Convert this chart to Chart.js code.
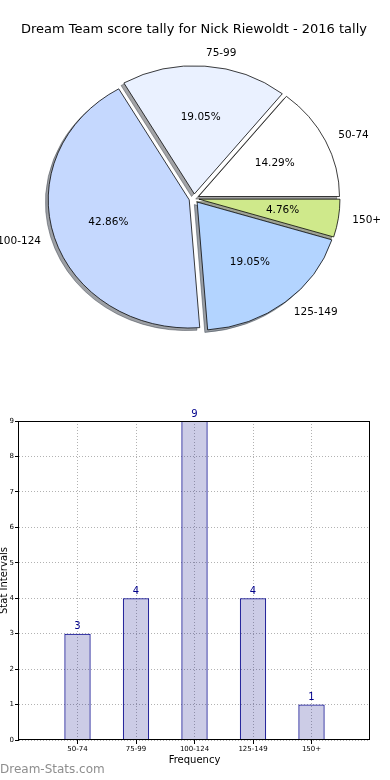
<!DOCTYPE html>
<html><head><meta charset="utf-8">
<script src="https://cdn.jsdelivr.net/npm/chart.js@4.4.0/dist/chart.umd.min.js"></script>
<style>
html,body{margin:0;padding:0;background:#fff;width:390px;height:780px;overflow:hidden;position:relative;font-family:'DejaVu Sans',sans-serif;}
#pie{position:absolute;left:0;top:0;}
#bar{position:absolute;left:0;top:390px;}
#wm{position:absolute;left:0;top:762px;font:12px 'DejaVu Sans',sans-serif;color:#8e8e8e;line-height:14px;}
</style></head><body>
<canvas id="pie" width="390" height="390"></canvas>
<canvas id="bar" width="390" height="390"></canvas>
<div id="wm">Dream-Stats.com</div>
<script>
// ---- data ----
const chartTitle = 'Dream Team score tally for Nick Riewoldt - 2016 tally';
const categories = ['50-74', '75-99', '100-124', '125-149', '150+'];
const counts = [3, 4, 9, 4, 1];
const yTicks = [0, 1, 2, 3, 4, 5, 6, 7, 8, 9];
const xAxisTitle = 'Frequency';
const yAxisTitle = 'Stat Intervals';

// ---- styles ----
const sliceColors = ['#ffffff', '#eaf1ff', '#c5d8fe', '#b3d4ff', '#cfe98b'];
const FONT = "'DejaVu Sans', sans-serif";
const R = 141;        // horizontal pie radius (px)
const SY = 0.909;     // vertical squash (matplotlib non-equal axes)
const EXPL = 5;       // explode distance (px)
const SH = 2.8;       // shadow offset (px)

const total = counts.reduce((a, b) => a + b, 0);
// matplotlib draws counter-clockwise from east; Chart.js clockwise -> reverse
const pieLabels = categories.slice().reverse();
const pieValues = counts.slice().reverse();
const pieColors = sliceColors.slice().reverse();

function hexRgb(h) {
  const n = parseInt(h.slice(1), 16);
  return [(n >> 16) & 255, (n >> 8) & 255, n & 255];
}

const piePlugin = {
  id: 'pieMpl',
  beforeDatasetDraw(chart) {
    const ctx = chart.ctx;
    const arcs = chart.getDatasetMeta(0).data;
    const cx = arcs[0].x, cy = arcs[0].y;
    ctx.save();
    ctx.translate(cx, cy); ctx.scale(1, SY); ctx.translate(-cx, -cy);
    // shadows first
    arcs.forEach((a, i) => {
      const mid = (a.startAngle + a.endAngle) / 2;
      const x = a.x + Math.cos(mid) * EXPL - SH;
      const y = a.y + Math.sin(mid) * EXPL + SH;
      const c = hexRgb(pieColors[i]).map(v => Math.round(v * 0.3));
      ctx.fillStyle = `rgba(${c[0]},${c[1]},${c[2]},0.5)`;
      ctx.strokeStyle = ctx.fillStyle;
      ctx.lineWidth = 1;
      ctx.beginPath();
      ctx.moveTo(x, y);
      ctx.arc(x, y, a.outerRadius, a.startAngle, a.endAngle);
      ctx.closePath();
      ctx.fill();
      ctx.stroke();
    });
    // wedges, each exploded outward
    arcs.forEach(a => {
      const mid = (a.startAngle + a.endAngle) / 2;
      ctx.save();
      ctx.translate(Math.cos(mid) * EXPL, Math.sin(mid) * EXPL);
      a.draw(ctx);
      ctx.restore();
    });
    ctx.restore();
    // labels
    ctx.save();
    ctx.font = '10.5px ' + FONT;
    ctx.fillStyle = '#000';
    ctx.textBaseline = 'middle';
    arcs.forEach((a, i) => {
      const mid = (a.startAngle + a.endAngle) / 2;
      const c = Math.cos(mid), s = Math.sin(mid);
      const lr = 1.1 * a.outerRadius + EXPL;
      ctx.textAlign = c > 0 ? 'left' : 'right';
      ctx.fillText(pieLabels[i], a.x + c * lr, a.y + s * lr * SY);
      const pr = 0.6 * a.outerRadius + EXPL;
      ctx.textAlign = 'center';
      ctx.fillText((pieValues[i] / total * 100).toFixed(2) + '%', a.x + c * pr, a.y + s * pr * SY);
    });
    ctx.restore();
    return false;
  }
};

new Chart(document.getElementById('pie'), {
  type: 'pie',
  data: {
    labels: pieLabels,
    datasets: [{
      data: pieValues,
      backgroundColor: pieColors,
      borderColor: '#000',
      borderWidth: 0.8,
      clip: false
    }]
  },
  options: {
    responsive: false,
    animation: false,
    events: [],
    rotation: 90,
    radius: R,
    layout: { padding: { left: 0, right: 2, top: 0, bottom: 30.6 } },
    plugins: {
      legend: { display: false },
      tooltip: { enabled: false },
      title: {
        display: true,
        text: chartTitle,
        color: '#000',
        font: { family: FONT, size: 13, weight: 'normal', lineHeight: 1.2 },
        padding: { top: 22, bottom: 0 }
      }
    }
  },
  plugins: [piePlugin]
});

const barPlugin = {
  id: 'barMpl',
  afterDatasetsDraw(chart) {
    const ctx = chart.ctx;
    const meta = chart.getDatasetMeta(0);
    ctx.save();
    ctx.font = '10px ' + FONT;
    ctx.fillStyle = '#00008b';
    ctx.textAlign = 'center';
    ctx.textBaseline = 'bottom';
    meta.data.forEach((b, i) => ctx.fillText(String(counts[i]), b.x, b.y - 2));
    ctx.restore();
  },
  afterDraw(chart) {
    const ctx = chart.ctx;
    const { left, top, right, bottom } = chart.chartArea;
    ctx.save();
    ctx.strokeStyle = '#000';
    ctx.lineWidth = 1;
    ctx.strokeRect(Math.round(left) - 0.5, Math.round(top) + 0.5, Math.round(right - left), Math.round(bottom - top) - 1);
    ctx.restore();
  }
};

new Chart(document.getElementById('bar'), {
  type: 'bar',
  data: {
    datasets: [{
      data: counts.map((v, i) => ({ x: i, y: v })),
      backgroundColor: 'rgba(0,0,128,0.2)',
      borderColor: '#00008b',
      borderWidth: 1,
      barPercentage: 0.45,
      categoryPercentage: 1
    }]
  },
  options: {
    responsive: false,
    animation: false,
    events: [],
    layout: { padding: { left: 0, right: 20, top: 31, bottom: 0 } },
    plugins: { legend: { display: false }, tooltip: { enabled: false } },
    scales: {
      x: {
        type: 'linear',
        offset: false,
        min: -1,
        max: categories.length,
        afterBuildTicks: s => { s.ticks = categories.map((c, i) => ({ value: i })); },
        afterFit: s => { s.height = 40; },
        ticks: {
          callback: v => categories[v] ?? '',
          color: '#000',
          font: { family: FONT, size: 7 },
          padding: 1,
          maxRotation: 0,
          autoSkip: false
        },
        grid: { offset: false, color: 'rgba(0,0,0,0.3)', tickColor: '#000', tickLength: 4, lineWidth: 1 },
        border: { display: false, dash: [1, 2] },
        title: {
          display: true, text: xAxisTitle, color: '#000',
          font: { family: FONT, size: 10, lineHeight: 1.2 },
          padding: { top: 0, bottom: 14 }
        }
      },
      y: {
        min: yTicks[0],
        max: yTicks[yTicks.length - 1],
        afterBuildTicks: s => { s.ticks = yTicks.map(v => ({ value: v })); },
        afterFit: s => { s.width = 19; },
        ticks: { color: '#000', font: { family: FONT, size: 7 }, padding: 1, autoSkip: false },
        grid: { color: 'rgba(0,0,0,0.3)', tickColor: '#000', tickLength: 4, lineWidth: 1 },
        border: { display: false, dash: [1, 2] },
        title: {
          display: true, text: yAxisTitle, color: '#000',
          font: { family: FONT, size: 10, lineHeight: 1.2 },
          padding: { top: -2, bottom: 0 }
        }
      }
    }
  },
  plugins: [barPlugin]
});
</script>
</body></html>
